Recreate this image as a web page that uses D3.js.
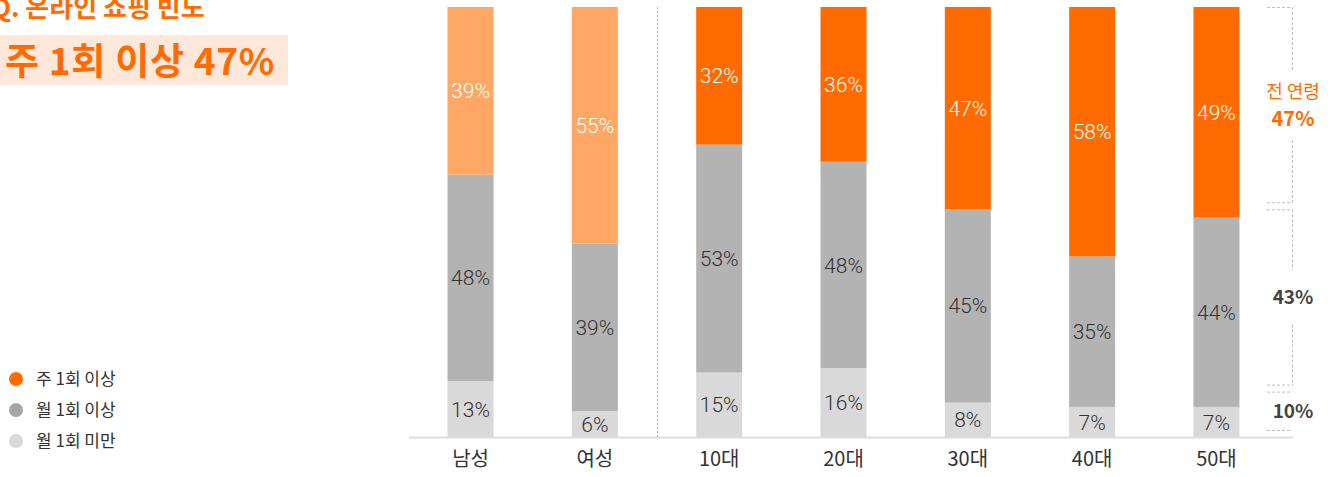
<!DOCTYPE html>
<html><head><meta charset="utf-8">
<script src="https://cdn.jsdelivr.net/npm/d3@7"></script>
<style>
body{margin:0;background:#fff;overflow:hidden}
svg{display:block;font-family:"Noto Sans CJK KR","Noto Sans",sans-serif}
</style></head>
<body><svg id="c" width="1332" height="477"></svg>
<script>
const categories = ["남성","여성","10대","20대","30대","40대","50대"];
const seriesNames = ["월 1회 미만","월 1회 이상","주 1회 이상"];
const lessMonthly = [13,6,15,16,8,7,7];
const monthly = [48,39,53,48,45,35,44];
const weekly = [39,55,32,36,47,58,49];
const overallNames = ["전 연령","",""];
const overall = [47,43,10];
const titleText = "Q. 온라인 쇼핑 빈도";
const headline = "주 1회 이상 47%";

const svg = d3.select("#c");
const ORANGE = "#FF6B00", LORANGE = "#FFA866", GRAY = "#B3B3B3", LGRAY = "#D9D9D9";

// title
svg.append("rect").attr("x",0).attr("y",35).attr("width",288).attr("height",50).attr("fill","#FFE8DA");
svg.append("text").attr("x",-9).attr("y",17).attr("fill",ORANGE).attr("font-size",26).attr("font-weight",700).text(titleText);
svg.append("text").attr("x",5).attr("y",75).attr("fill",ORANGE).attr("font-size",37).attr("font-weight",700).attr("letter-spacing",0.7).text(headline);

// legend
const legend = [{n:"주 1회 이상",c:ORANGE},{n:"월 1회 이상",c:"#A6A6A6"},{n:"월 1회 미만",c:LGRAY}];
legend.forEach((d,i)=>{
  const y = 379 + i*31;
  svg.append("circle").attr("cx",16).attr("cy",y).attr("r",7).attr("fill",d.c);
  svg.append("text").attr("x",36).attr("y",y).attr("dy","0.35em").attr("font-size",17).attr("fill","#333").text(d.n);
});

// scales
const x = d3.scaleBand().domain(categories).range([409,1278]).paddingInner(0.63).paddingOuter(0.31);
const y = d3.scaleLinear().domain([0,100]).range([437,7]);

const rows = categories.map((c,i)=>({cat:c, v:[lessMonthly[i], monthly[i], weekly[i]]}));
const g = svg.append("g");
rows.forEach((r,ci)=>{
  let acc = 0;
  r.v.forEach((v,si)=>{
    const y0 = y(acc), y1 = y(acc+v);
    let fill = si===0?LGRAY:si===1?GRAY:(ci<2?LORANGE:ORANGE);
    g.append("rect").attr("x",x(r.cat)).attr("width",x.bandwidth()).attr("y",y1).attr("height",y0-y1).attr("fill",fill);
    g.append("text").attr("x",x(r.cat)+x.bandwidth()/2).attr("y",(y0+y1)/2).attr("dy","0.36em")
      .attr("text-anchor","middle").attr("font-size",21).attr("font-weight",300).attr("font-family","Roboto,sans-serif")
      .attr("fill",si===2?"#fff":"#333").text(v+"%");
    acc += v;
  });
});

// axis line
svg.append("line").attr("x1",409).attr("x2",1293).attr("y1",437.5).attr("y2",437.5).attr("stroke","#DDD").attr("stroke-width",2);
// x labels
const xAxis = d3.axisBottom(x).tickSize(0).tickPadding(14);
const ax = svg.append("g").attr("transform","translate(0,438)").call(xAxis);
ax.select(".domain").remove();
ax.selectAll("text").attr("font-size",20).attr("fill","#333").attr("font-family","'Noto Sans CJK KR',sans-serif");

// separator
const sepX = Math.round((x("여성")+x.bandwidth() + x("10대"))/2)+0.5;
svg.append("line").attr("x1",sepX).attr("x2",sepX).attr("y1",7).attr("y2",437).attr("stroke","#BBB").attr("stroke-dasharray","2,2");

// brackets
const yb = d3.scaleLinear().domain([0,100]).range([7,431]);
let acc = 0;
const bx1 = 1267, bx2 = 1292.5;
overall.forEach((v,i)=>{
  const top = yb(acc) + (i===0?0:3), bot = yb(acc+v) - (i===2?0:3);
  acc += v;
  const mid = i===0 ? 105 : (top+bot)/2;
  const gap = i===0 ? 35 : 27;
  const dash = {stroke:"#BFBFBF","stroke-dasharray":"3,2","stroke-width":1};
  const L = (a,b,c,d)=>{const l=svg.append("line").attr("x1",a).attr("y1",b).attr("x2",c).attr("y2",d); Object.entries(dash).forEach(([k,vv])=>l.attr(k,vv));};
  L(bx1,top+0.5,bx2,top+0.5);
  L(bx1,bot-0.5,bx2,bot-0.5);
  if (mid-gap > top) L(bx2,top,bx2,mid-gap);
  if (mid+gap < bot) L(bx2,mid+gap,bx2,bot);
  if (overallNames[i]) {
    svg.append("text").attr("x",1293).attr("y",92).attr("dy","0.35em").attr("text-anchor","middle").attr("font-size",18).attr("fill",ORANGE).text(overallNames[i]);
    svg.append("text").attr("x",1293).attr("y",119).attr("dy","0.35em").attr("text-anchor","middle").attr("font-size",20).attr("font-weight",700).attr("fill",ORANGE).text(v+"%");
  } else {
    svg.append("text").attr("x",1293).attr("y",mid).attr("dy","0.35em").attr("text-anchor","middle").attr("font-size",19).attr("font-weight",700).attr("fill","#444").text(v+"%");
  }
});
</script></body></html>
